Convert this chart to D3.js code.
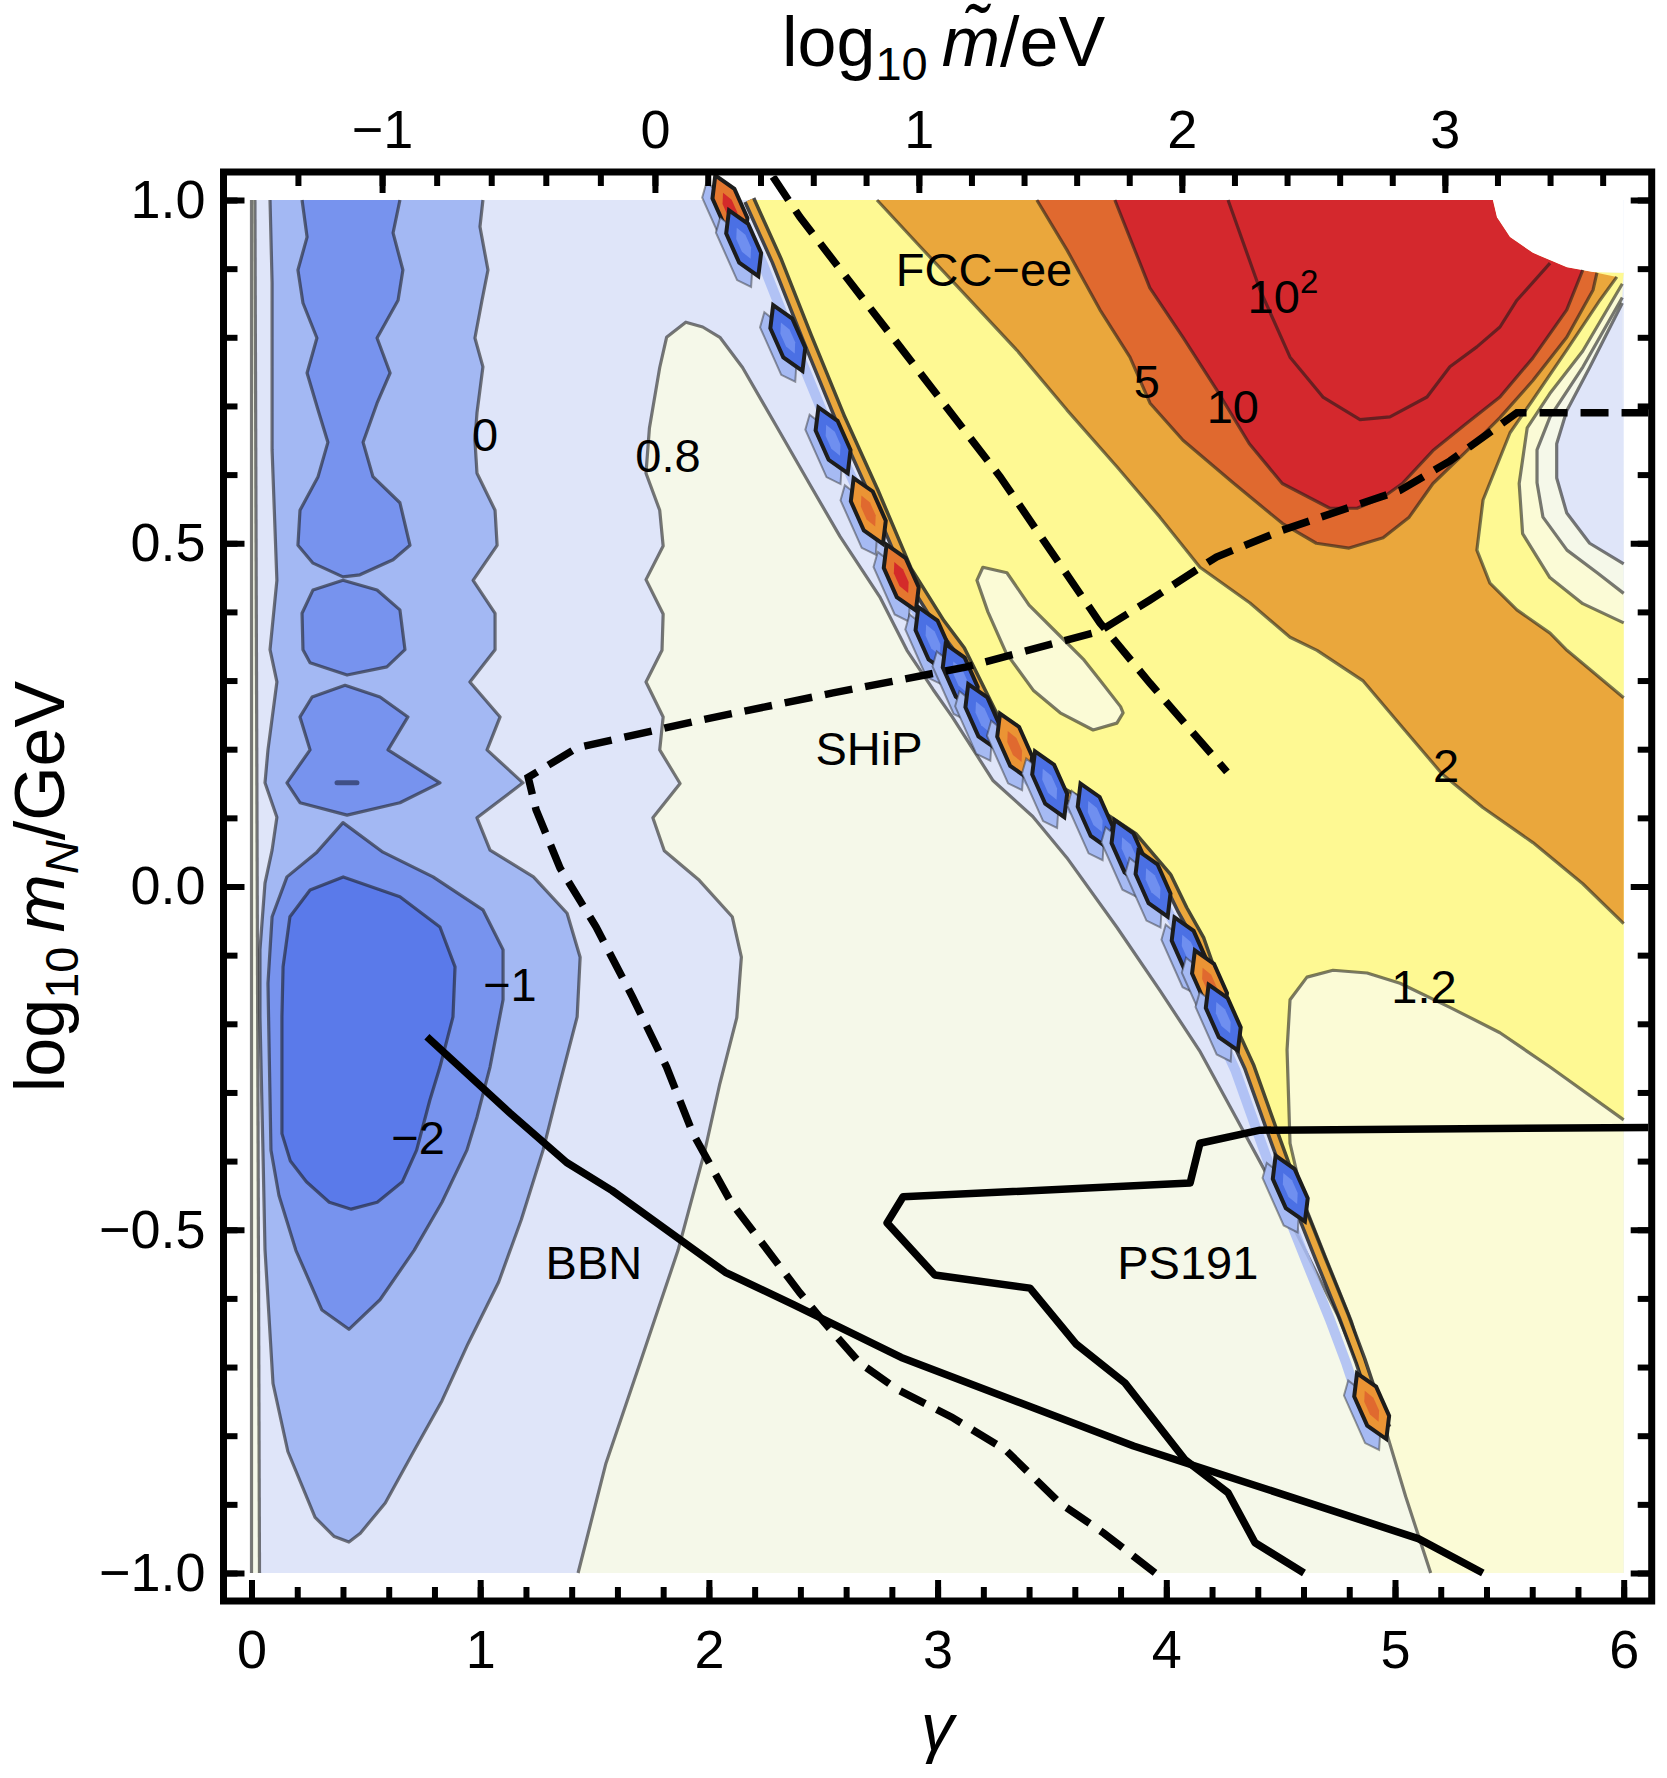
<!DOCTYPE html>
<html>
<head>
<meta charset="utf-8">
<script src="https://cdn.jsdelivr.net/npm/d3@7"></script>
<style>
  body { margin: 0; background: #fff; }
  text { font-family: "Liberation Sans", Arial, sans-serif; }
</style>
</head>
<body>
<svg id="chart" width="1667" height="1778"></svg>
<script>
// ---- ticks ----
var xTicks = [0, 1, 2, 3, 4, 5, 6];
var yTicks = [-1, -0.5, 0, 0.5, 1];
var topTicks = [-1, 0, 1, 2, 3];
// log10 m~ values on the top axis and the gamma where they sit
var topTickVals = [-1.2, -1, 0, 1, 2, 3];
var topTickGamma = [0.203, 0.571, 1.764, 2.918, 4.068, 5.218];

// ---- contour boundaries, points are [gamma, log10 mN] ----
// level 0 (light blue | lavender)
var lineA = [[1.012,1],[0.999,0.961],[1.034,0.898],[1.008,0.854],[0.977,0.799],[1.012,0.757],[0.986,0.69],[0.977,0.65],[0.986,0.602],[1.065,0.548],[1.074,0.497],[0.969,0.446],[1.065,0.398],[1.065,0.345],[0.955,0.298],[1.087,0.247],[1.03,0.199],[1.187,0.151],[0.986,0.1],[1.043,0.053],[1.233,0.014],[1.38,-0.039],[1.437,-0.103],[1.424,-0.19],[1.349,-0.286],[1.275,-0.384],[1.18,-0.485],[1.081,-0.576],[0.947,-0.666],[0.833,-0.749],[0.709,-0.823],[0.585,-0.898],[0.476,-0.942],[0.426,-0.955],[0.362,-0.947],[0.278,-0.919],[0.159,-0.823],[0.094,-0.724],[0.059,-0.529],[0.05,-0.384],[0.037,-0.19],[0.037,-0.092],[0.059,0.005],[0.09,0.053],[0.111,0.101],[0.059,0.151],[0.072,0.199],[0.111,0.298],[0.081,0.345],[0.111,0.446],[0.09,0.636],[0.09,0.879],[0.081,1]];
// level -1 pieces
var medTop = [[0.221,1],[0.243,0.946],[0.203,0.898],[0.225,0.85],[0.286,0.799],[0.243,0.748],[0.291,0.694],[0.334,0.647],[0.291,0.597],[0.212,0.548],[0.203,0.497],[0.269,0.471],[0.4,0.451],[0.474,0.454],[0.619,0.476],[0.693,0.497],[0.649,0.559],[0.531,0.597],[0.488,0.647],[0.549,0.704],[0.606,0.748],[0.549,0.799],[0.641,0.854],[0.662,0.898],[0.619,0.952],[0.649,1]];
var medBulb2 = [[0.4,0.446],[0.549,0.432],[0.649,0.403],[0.671,0.345],[0.592,0.32],[0.418,0.308],[0.256,0.326],[0.225,0.345],[0.221,0.398],[0.269,0.432]];
var medBulb3 = [[0.409,0.293],[0.562,0.276],[0.684,0.247],[0.597,0.199],[0.824,0.151],[0.649,0.122],[0.418,0.104],[0.212,0.122],[0.155,0.151],[0.256,0.199],[0.212,0.247],[0.265,0.276]];
var medBulb4 = [[0.4,0.093],[0.575,0.05],[0.794,0.014],[1.012,-0.034],[1.1,-0.092],[1.1,-0.165],[1.043,-0.263],[0.986,-0.336],[0.942,-0.384],[0.833,-0.46],[0.711,-0.53],[0.562,-0.602],[0.426,-0.645],[0.308,-0.617],[0.194,-0.53],[0.12,-0.45],[0.085,-0.384],[0.072,-0.141],[0.09,-0.044],[0.155,0.014],[0.286,0.05]];
var smallDash = [[0.374,0.151],[0.461,0.151]];
// level -2
var darkC = [[0.401,0.014],[0.649,-0.015],[0.824,-0.059],[0.89,-0.117],[0.881,-0.19],[0.824,-0.263],[0.78,-0.311],[0.722,-0.384],[0.66,-0.43],[0.55,-0.46],[0.436,-0.47],[0.34,-0.46],[0.24,-0.43],[0.17,-0.4],[0.133,-0.36],[0.133,-0.19],[0.138,-0.117],[0.168,-0.044],[0.256,-0.005]];
// thin sliver on gamma = 0
var sliverL = [[0,1],[0,-1]];
var sliverR = [[0.015,1],[0.035,-1]];
// level 0.8 main boundary
var lineCream = [[1.428,-1],[1.55,-0.84],[1.699,-0.694],[1.865,-0.53],[1.983,-0.384],[2.048,-0.287],[2.122,-0.191],[2.142,-0.103],[2.102,-0.044],[1.958,0.009],[1.805,0.052],[1.755,0.1],[1.874,0.15],[1.785,0.199],[1.8,0.247],[1.725,0.298],[1.795,0.344],[1.8,0.397],[1.725,0.447],[1.8,0.496],[1.785,0.548],[1.725,0.602],[1.74,0.668],[1.785,0.756],[1.815,0.8],[1.899,0.822],[1.973,0.815],[2.048,0.8],[2.147,0.756],[2.296,0.67],[2.439,0.587],[2.573,0.51],[2.747,0.422],[2.866,0.344],[2.98,0.287],[3.064,0.247],[3.243,0.154],[3.416,0.102],[3.565,0.042],[3.783,-0.059],[3.971,-0.151],[4.145,-0.239],[4.304,-0.336],[4.452,-0.427],[4.601,-0.526],[4.75,-0.625],[4.874,-0.724],[4.958,-0.79],[5.047,-0.889],[5.156,-1]];
// the unstable band: its right edge
var bandEdge = [[2.177,1],[2.296,0.912],[2.429,0.8],[2.573,0.683],[2.717,0.577],[2.866,0.46],[3.009,0.384],[3.099,0.344],[3.243,0.247],[3.361,0.188],[3.51,0.143],[3.659,0.115],[3.852,0.072],[4.001,0.014],[4.071,-0.034],[4.145,-0.078],[4.264,-0.191],[4.363,-0.263],[4.482,-0.374],[4.576,-0.46],[4.675,-0.543],[4.775,-0.625],[4.849,-0.691],[4.923,-0.765],[4.958,-0.79]];
// artefact cells along the band: [gamma, log10 mN, kind]
var bandCells = [[2.092,0.988,'r'],[2.152,0.937,'b'],[2.345,0.799,'b'],[2.543,0.65,'b'],[2.697,0.547,'o'],[2.841,0.45,'r'],[2.98,0.359,'b'],[3.099,0.305,'b'],[3.198,0.247,'b'],[3.337,0.204,'o'],[3.49,0.149,'b'],[3.689,0.102,'b'],[3.837,0.049,'b'],[3.942,0.004,'b'],[4.1,-0.093,'b'],[4.189,-0.141,'o'],[4.249,-0.191,'b'],[4.542,-0.44,'b'],[4.898,-0.757,'o']];
// right-edge pocket
var lineC08pocket = [[6,0.47],[5.851,0.5],[5.751,0.544],[5.707,0.595],[5.707,0.645],[5.751,0.693],[5.851,0.756],[5.994,0.85]];
var lineC10pocket = [[6,0.427],[5.884,0.457],[5.752,0.49],[5.647,0.538],[5.621,0.588],[5.621,0.636],[5.678,0.684],[5.822,0.757],[5.994,0.858]];
var lineC12pocket = [[6,0.384],[5.821,0.412],[5.677,0.45],[5.558,0.514],[5.543,0.587],[5.578,0.668],[5.677,0.718],[5.821,0.78],[5.994,0.878]];
// level 1.2 lower branch
var lineC12lower = [[4.923,-0.765],[4.809,-0.633],[4.7,-0.543],[4.601,-0.46],[4.541,-0.374],[4.528,-0.238],[4.541,-0.165],[4.615,-0.132],[4.729,-0.122],[4.878,-0.126],[5.022,-0.141],[5.24,-0.176],[5.459,-0.213],[5.678,-0.263],[6,-0.34]];
var island = [[3.198,0.465],[3.303,0.457],[3.4,0.41],[3.52,0.37],[3.64,0.33],[3.711,0.3],[3.8,0.262],[3.811,0.253],[3.784,0.238],[3.68,0.228],[3.536,0.253],[3.418,0.286],[3.3,0.34],[3.22,0.4],[3.172,0.446]];
// level 2
var lineC2main = [[2.735,1],[2.91,0.937],[3.129,0.859],[3.347,0.781],[3.566,0.694],[3.785,0.611],[3.972,0.538],[4.147,0.465],[4.366,0.413],[4.541,0.363],[4.659,0.344],[4.859,0.3],[5.032,0.232],[5.206,0.164],[5.384,0.115],[5.603,0.064],[5.821,0.004],[6,-0.054]];
var lineC2right = [[6,0.275],[5.752,0.344],[5.678,0.369],[5.533,0.403],[5.415,0.442],[5.358,0.49],[5.385,0.563],[5.503,0.661],[5.603,0.709],[5.752,0.782],[5.896,0.854],[5.97,0.888]];
// level 5, 10, 100
var lineC5 = [[3.434,1],[3.566,0.927],[3.71,0.84],[3.841,0.771],[3.929,0.704],[4.073,0.65],[4.292,0.588],[4.507,0.529],[4.656,0.5],[4.799,0.493],[4.948,0.508],[5.062,0.538],[5.166,0.587],[5.315,0.635],[5.459,0.683],[5.603,0.737],[5.751,0.8],[5.866,0.869],[5.883,0.894]];
var lineC10 = [[3.775,1],[3.928,0.872],[4.073,0.8],[4.221,0.723],[4.363,0.645],[4.507,0.587],[4.715,0.551],[4.834,0.551],[4.948,0.567],[5.032,0.587],[5.166,0.635],[5.315,0.675],[5.459,0.713],[5.603,0.77],[5.751,0.84],[5.821,0.898]];
var lineC100 = [[4.27,1],[4.41,0.869],[4.541,0.771],[4.685,0.713],[4.847,0.68],[4.978,0.684],[5.14,0.713],[5.24,0.757],[5.358,0.786],[5.459,0.815],[5.533,0.854],[5.678,0.908]];
// no-data corner
var cutout = [[5.428,1],[5.446,0.975],[5.503,0.946],[5.603,0.923],[5.752,0.902],[5.866,0.895],[6,0.894]];

// ---- experimental curves ----
var bbn = [[0.767,-0.219],[1.13,-0.33],[1.378,-0.402],[1.577,-0.443],[2.072,-0.562],[2.37,-0.609],[2.841,-0.686],[3.361,-0.752],[3.857,-0.815],[4.403,-0.874],[5.102,-0.95],[5.384,-1]];
var ps191 = [[6.113,-0.351],[4.41,-0.355],[4.147,-0.374],[4.104,-0.432],[2.849,-0.452],[2.779,-0.49],[2.988,-0.566],[3.404,-0.585],[3.604,-0.666],[3.819,-0.723],[4.082,-0.835],[4.27,-0.883],[4.388,-0.956],[4.602,-1]];
var ship = [[6.113,0.69],[5.533,0.69],[5.241,0.62],[5.022,0.577],[4.799,0.552],[4.507,0.519],[4.219,0.48],[3.927,0.417],[3.709,0.372],[3.128,0.32],[2.543,0.282],[1.958,0.242],[1.423,0.202],[1.21,0.159],[1.244,0.112],[1.349,0.027],[1.507,-0.059],[1.666,-0.161],[1.815,-0.263],[1.929,-0.359],[2.097,-0.46],[2.398,-0.592],[2.494,-0.631],[2.66,-0.694],[2.826,-0.733],[3.062,-0.773],[3.298,-0.821],[3.534,-0.898],[3.727,-0.942],[3.963,-1.003]];
var fcc = [[2.28,1.034],[2.398,0.975],[2.836,0.786],[3.273,0.597],[3.71,0.384],[3.929,0.296],[4.265,0.167]];

// ---- text labels: [text, gamma, log10 mN] ----
var contourLabels = [['0',1.021,0.659],['0.8',1.821,0.629],['\u22121',1.13,-0.142],['\u22122',0.728,-0.365],['5',3.915,0.736],['10',4.291,0.7],['2',5.223,0.177],['1.2',5.127,-0.145]];
var regionLabels = [['FCC\u2212ee',3.203,0.9],['SHiP',2.7,0.202],['BBN',1.497,-0.547],['PS191',4.094,-0.547]];
var label100 = [4.51, 0.86];

// ---- colours of the filled levels ----
var cDark = '#5a7aea', cMed = '#7793ee', cLight = '#a3b8f3', cLav = '#dfe5f9',
    cCream = '#f5f8e9', cPale = '#fbfbd6', cYellow = '#fef993',
    cOrange = '#eaa73c', cDOrange = '#e0692f', cRed = '#d4282d';

var svg = d3.select('#chart');
var x = d3.scaleLinear().domain([0, 6]).range([251.5, 1623.7]);
var y = d3.scaleLinear().domain([-1, 1]).range([1573, 200]);
var topScale = d3.scaleLinear().domain(topTickVals).range(topTickGamma.map(function(g) { return x(g); }));
var pad = 28;
var fx0 = x(0) - pad, fx1 = x(6) + pad, fy0 = y(1) - pad, fy1 = y(-1) + pad;

var line = d3.line().x(function(d) { return x(d[0]); }).y(function(d) { return y(d[1]); });
var cutoutBack = function(g) {
  return cutout.filter(function(p) { return p[0] <= g; }).reverse();
};

svg.append('defs').append('clipPath').attr('id', 'frameClip')
  .append('rect').attr('x', fx0 + 3.5).attr('y', fy0 + 3.5)
  .attr('width', fx1 - fx0 - 7).attr('height', fy1 - fy0 - 7);

var plot = svg.append('g');

var fill = function(pts, color) {
  plot.append('path').attr('d', line(pts) + 'Z').attr('fill', color);
};
var edge = function(pts, closed) {
  plot.append('path').attr('d', line(pts) + (closed ? 'Z' : ''))
    .attr('fill', 'none').attr('stroke', 'rgba(25,25,25,0.58)')
    .attr('stroke-width', 3.2).attr('stroke-linejoin', 'round');
};

// background level (0 .. 0.8)
plot.append('rect').attr('x', x(0)).attr('y', y(1))
  .attr('width', x(6) - x(0)).attr('height', y(-1) - y(1)).attr('fill', cLav);

fill(sliverL.concat(sliverR.slice().reverse()), cCream);
fill(lineA, cLight);
fill(medTop, cMed);
fill(medBulb2, cMed);
fill(medBulb3, cMed);
fill(medBulb4, cMed);
fill(darkC, cDark);
fill(lineCream, cCream);
fill(bandEdge.concat([[5.047,-0.889],[5.156,-1],[6,-1]], lineC10pocket, cutoutBack(6)), cPale);
fill(lineC10pocket, cCream);
fill(lineC08pocket, cLav);
fill(bandEdge.slice(0, -1).concat(lineC12lower, lineC12pocket, cutoutBack(6)), cYellow);
fill(island, cPale);
fill(lineC2main.concat(lineC2right, cutoutBack(5.96)), cOrange);
fill(lineC5.concat(cutoutBack(5.87)), cDOrange);
fill(lineC10.concat(cutoutBack(5.81)), cRed);
fill(cutout.concat([[6,1]]), '#ffffff');

// contour lines
[sliverL, sliverR, lineA, medTop, lineCream, lineC08pocket, lineC10pocket, lineC12pocket,
 lineC12lower, lineC2main, lineC2right, lineC5, lineC10, lineC100].forEach(function(l) { edge(l, false); });
[medBulb2, medBulb3, medBulb4, darkC, island].forEach(function(l) { edge(l, true); });
plot.append('path').attr('d', line(smallDash)).attr('stroke', 'rgba(40,50,90,0.7)')
  .attr('stroke-width', 5).attr('stroke-linecap', 'round');

// the unstable band
plot.append('path').attr('d', line(bandEdge)).attr('fill', 'none')
  .attr('transform', 'translate(-14,3)')
  .attr('stroke', '#a9bcf4').attr('stroke-width', 10).attr('stroke-opacity', 0.85);
plot.append('path').attr('d', line(bandEdge)).attr('fill', 'none')
  .attr('stroke', 'rgba(25,25,25,0.8)').attr('stroke-width', 13).attr('stroke-linejoin', 'round');
plot.append('path').attr('d', line(bandEdge)).attr('fill', 'none')
  .attr('stroke', cOrange).attr('stroke-width', 6).attr('stroke-linejoin', 'round');

var cellFill = { b: '#4b70e4', o: '#eb9434', r: '#e4772f' };
var cellCore = { b: '#6f8ff0', o: '#e0692f', r: '#d42a2a' };
var cells = plot.selectAll('g.cell').data(bandCells).enter().append('g')
  .attr('class', 'cell')
  .attr('transform', function(d) { return 'translate(' + x(d[0]) + ',' + y(d[1]) + ') rotate(-24)'; });
cells.append('path').attr('d', 'M-10,-26L0,-38L11,-17L11,17L0,38L-10,26Z')
  .attr('transform', 'translate(-11,5)')
  .attr('fill', '#a6baf3').attr('stroke', 'rgba(40,40,40,0.45)').attr('stroke-width', 2);
cells.append('path').attr('d', 'M0,-36L12,-16L12,16L0,36L-12,16L-12,-16Z')
  .attr('fill', function(d) { return cellFill[d[2]]; })
  .attr('stroke', '#1c1c1c').attr('stroke-width', 4);
cells.append('path').attr('d', 'M0,-17L5,-7L5,7L0,17L-5,7L-5,-7Z')
  .attr('fill', function(d) { return cellCore[d[2]]; });

// experimental curves, clipped to the frame
var curves = svg.append('g').attr('clip-path', 'url(#frameClip)');
[bbn, ps191].forEach(function(l) {
  curves.append('path').attr('d', line(l)).attr('fill', 'none').attr('stroke', '#000')
    .attr('stroke-width', 7.5).attr('stroke-linejoin', 'round');
});
[ship, fcc].forEach(function(l) {
  curves.append('path').attr('d', line(l)).attr('fill', 'none').attr('stroke', '#000')
    .attr('stroke-width', 7.5).attr('stroke-dasharray', '28,13');
});

// labels
var labels = svg.append('g').attr('font-size', 47).attr('text-anchor', 'middle');
labels.selectAll('text.cl').data(contourLabels.concat(regionLabels)).enter().append('text')
  .attr('class', 'cl')
  .attr('x', function(d) { return x(d[1]); })
  .attr('y', function(d) { return y(d[2]); })
  .attr('dy', '0.36em')
  .text(function(d) { return d[0]; });
var t100 = labels.append('text').attr('x', x(label100[0])).attr('y', y(label100[1])).attr('dy', '0.36em');
t100.append('tspan').text('10');
t100.append('tspan').attr('dy', -20).attr('font-size', 33).text('2');

// frame
svg.append('rect').attr('x', fx0).attr('y', fy0).attr('width', fx1 - fx0).attr('height', fy1 - fy0)
  .attr('fill', 'none').attr('stroke', '#000').attr('stroke-width', 7);

// axes
var styleAxis = function(g, w) {
  g.select('.domain').remove();
  g.selectAll('line').attr('stroke', '#000').attr('stroke-width', w);
  g.selectAll('text').attr('font-size', 54).attr('fill', '#000')
    .attr('font-family', '"Liberation Sans", Arial, sans-serif');
};
var xMinor = d3.range(0, 6.01, 0.2);
var yMinor = d3.range(-1, 1.001, 0.1);
var topMinor = d3.range(-1.2, 3.61, 0.2);

var gb = svg.append('g').attr('transform', 'translate(0,' + fy1 + ')');
gb.append('g').call(d3.axisBottom(x).tickValues(xMinor).tickSize(-14).tickFormat('')).call(styleAxis, 6);
gb.append('g').call(d3.axisBottom(x).tickValues(xTicks).tickSizeInner(-21).tickSizeOuter(0).tickPadding(29).tickFormat(d3.format('d'))).call(styleAxis, 6);

var gl = svg.append('g').attr('transform', 'translate(' + fx0 + ',0)');
gl.append('g').call(d3.axisLeft(y).tickValues(yMinor).tickSize(-14).tickFormat('')).call(styleAxis, 6);
gl.append('g').call(d3.axisLeft(y).tickValues(yTicks).tickSizeInner(-21).tickSizeOuter(0).tickPadding(18).tickFormat(d3.format('.1f'))).call(styleAxis, 6);

var gr = svg.append('g').attr('transform', 'translate(' + fx1 + ',0)');
gr.append('g').call(d3.axisRight(y).tickValues(yMinor).tickSize(-14).tickFormat('')).call(styleAxis, 6);
gr.append('g').call(d3.axisRight(y).tickValues(yTicks).tickSize(-21).tickFormat('')).call(styleAxis, 6);

var gt = svg.append('g').attr('transform', 'translate(0,' + fy0 + ')');
gt.append('g').call(d3.axisTop(topScale).tickValues(topMinor).tickSize(-14).tickFormat('')).call(styleAxis, 6);
gt.append('g').call(d3.axisTop(topScale).tickValues(topTicks).tickSizeInner(-21).tickSizeOuter(0).tickPadding(24).tickFormat(d3.format('d'))).call(styleAxis, 6);

// axis titles, centred on the frame
var frameMidX = (fx0 + fx1) / 2, frameMidY = (fy0 + fy1) / 2;
var tt = svg.append('text').attr('x', frameMidX + 6).attr('y', 66).attr('text-anchor', 'middle').attr('font-size', 70);
tt.append('tspan').text('log');
tt.append('tspan').attr('font-size', 47).attr('dy', 14).text('10');
tt.append('tspan').attr('dy', -14).text('\u2009');
tt.append('tspan').attr('font-style', 'italic').text('m\u0303');
tt.append('tspan').text('/eV');

svg.append('text').attr('x', frameMidX).attr('y', 1750).attr('text-anchor', 'middle')
  .attr('font-size', 66).attr('font-style', 'italic').text('\u03b3');

var tl = svg.append('text').attr('transform', 'translate(64,' + frameMidY + ') rotate(-90)')
  .attr('text-anchor', 'middle').attr('font-size', 70);
tl.append('tspan').text('log');
tl.append('tspan').attr('font-size', 47).attr('dy', 14).text('10');
tl.append('tspan').attr('dy', -14).text('\u2009');
tl.append('tspan').attr('font-style', 'italic').text('m');
tl.append('tspan').attr('font-style', 'italic').attr('font-size', 47).attr('dy', 14).text('N');
tl.append('tspan').attr('dy', -14).text('/GeV');
</script>
</body>
</html>
